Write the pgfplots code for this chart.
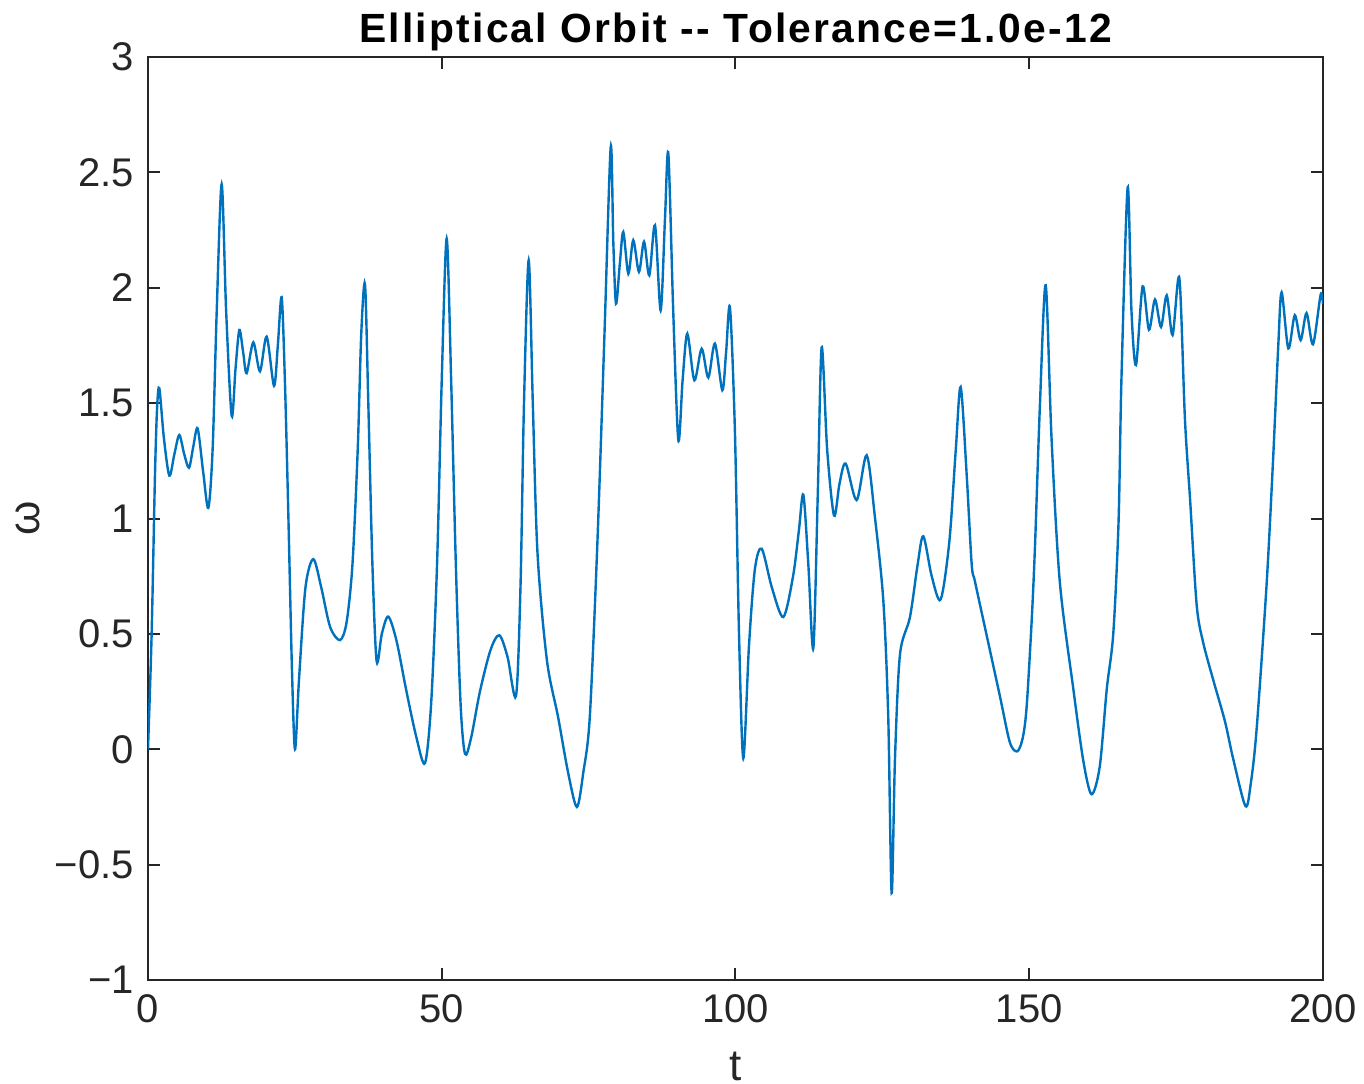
\documentclass[border=0pt]{standalone}
\usepackage{fontspec}
\setmainfont{Liberation Sans}
\usepackage{pgfplots}
\pgfplotsset{compat=1.18}
\definecolor{mblue}{RGB}{0,114,189}
\definecolor{axgray}{RGB}{38,38,38}
\begin{document}
\begin{tikzpicture}
\begin{axis}[
 scale only axis, width=293.75pt, height=230.75pt,
 xmin=0,xmax=200,ymin=-1,ymax=3,
 xtick={0,50,100,150,200},
 ytick={-1,-0.5,0,0.5,1,1.5,2,2.5,3},
 yticklabels={−1,−0.5,0,0.5,1,1.5,2,2.5,3},
 tick align=inside, major tick length=3pt,
 axis line style={axgray, line width=0.5pt},
 tick style={axgray, line width=0.5pt},
 every tick label/.append style={font=\fontsize{10}{12}\selectfont, text=axgray},
 /pgf/number format/assume math mode=true,
 every axis title shift=0pt,
 title={Elliptical Orbit -{}- Tolerance=1.0e-12},
 title style={at={(axis description cs:0.5,1)}, anchor=base, yshift=3.75pt, inner sep=0pt, font=\fontsize{10.2}{12}\selectfont\bfseries\addfontfeature{LetterSpace=5.5}},
 xlabel={t},
 xlabel style={at={(axis description cs:0.5,-0.0932)}, anchor=center, font=\fontsize{11}{13}\selectfont, text=axgray},
 ylabel={ω},
 ylabel style={at={(axis description cs:-0.102,0.5)}, anchor=center, font=\fontsize{11}{13}\selectfont, text=axgray},
]
\addplot[mblue, line width=0.6pt, smooth, tension=0.5] coordinates {
(0,0) (0.62,0.5) (1.19,1.19) (1.55,1.48) (1.93,1.565) (2.7,1.35) (3.63,1.186)
(4.5,1.28) (5.33,1.362) (6.15,1.28) (6.98,1.22) (7.7,1.31) (8.45,1.39)
(9.4,1.2) (10.27,1.046) (11.0,1.3) (11.7,1.9) (12.54,2.449) (13.3,1.9)
(14.24,1.445) (14.9,1.65) (15.55,1.817) (16.2,1.72) (16.79,1.63) (17.93,1.763)
(19.06,1.638) (20.2,1.788) (21.45,1.575) (22.1,1.75) (22.75,1.959) (23.3,1.6)
(23.89,1.015) (24.5,0.35) (25.02,0.0) (25.7,0.3) (26.8,0.7) (28.14,0.824)
(29.5,0.7) (31.0,0.53) (32.68,0.473) (33.8,0.55) (34.8,0.8) (35.7,1.3)
(36.3,1.8) (36.94,2.014) (37.5,1.5) (38.2,0.8) (38.92,0.381) (39.8,0.5)
(40.9,0.575) (42.3,0.47) (44.0,0.25) (45.7,0.05) (47.15,-0.06) (48.2,0.2)
(49.2,0.8) (50.0,1.6) (50.84,2.213) (51.6,1.6) (52.4,0.8) (53.2,0.2)
(53.96,-0.02) (55.0,0.05) (56.5,0.25) (58.3,0.43) (59.8,0.494) (61.2,0.4)
(62.64,0.231) (63.4,0.7) (64.0,1.5) (64.8,2.119) (65.5,1.5) (66.3,0.85)
(67.9,0.386) (69.8,0.14) (71.5,-0.1) (73.0,-0.25) (74.1,-0.1) (75.2,0.14)
(76.5,0.9) (77.7,1.8) (78.76,2.61) (79.2,2.2) (79.66,1.931) (80.3,2.1)
(80.9,2.242) (81.76,2.061) (82.6,2.206) (83.57,2.069) (84.43,2.199) (85.33,2.054)
(86.3,2.271) (87.26,1.902) (88.0,2.3) (88.57,2.581) (89.4,1.9) (90.27,1.34)
(91.0,1.6) (91.8,1.801) (93.0,1.599) (94.24,1.736) (95.37,1.611) (96.5,1.758)
(97.76,1.556) (98.4,1.72) (99.06,1.914) (99.9,1.38) (100.6,0.5) (101.33,-0.039)
(102.3,0.45) (103.3,0.78) (104.46,0.869) (106.2,0.7) (108.14,0.573) (109.8,0.75)
(110.8,0.95) (111.55,1.103) (112.4,0.8) (113.25,0.438) (114.0,1.1) (114.67,1.742)
(115.6,1.3) (116.77,1.013) (117.7,1.15) (118.75,1.238) (120.62,1.08) (122.33,1.274)
(123.74,1.004) (125.16,0.645) (126.0,0.141) (126.58,-0.623) (127.15,-0.039) (128.0,0.411)
(129.7,0.573) (131.0,0.8) (131.97,0.923) (133.4,0.75) (134.92,0.649) (136.4,0.9)
(137.5,1.3) (138.33,1.57) (139.35,1.19) (140.2,0.803) (140.77,0.726) (142.75,0.494)
(145.0,0.231) (146.7,0.03) (147.97,-0.009) (148.9,0.05) (149.56,0.185) (150.4,0.55)
(150.98,0.881) (151.83,1.5) (152.8,2.011) (153.8,1.345) (155.2,0.726) (157.5,0.262)
(159.2,-0.05) (160.6,-0.195) (162.0,-0.075) (163.2,0.262) (164.3,0.5) (165.2,0.984)
(165.7,1.61) (166.75,2.434) (167.4,1.9) (168.17,1.665) (169.3,2.006) (170.38,1.818)
(171.4,1.949) (172.43,1.83) (173.4,1.967) (174.4,1.795) (175.55,2.042) (176.5,1.432)
(177.4,1.073) (178.5,0.625) (179.6,0.463) (181.3,0.302) (183.3,0.122) (184.7,-0.04)
(186.8,-0.246) (187.7,-0.15) (188.7,0.086) (190.4,0.714) (191.5,1.253) (192.4,1.755)
(192.96,1.98) (194.1,1.737) (195.2,1.881) (196.2,1.773) (197.2,1.89) (198.3,1.755)
(199.6,1.97) (200,1.93)
};
\end{axis}
\pgfresetboundingbox
\path[use as bounding box] ([xshift=-37pt,yshift=-26pt]current axis.south west) rectangle ([xshift=10.25pt,yshift=14.25pt]current axis.north east);
\end{tikzpicture}
\end{document}
